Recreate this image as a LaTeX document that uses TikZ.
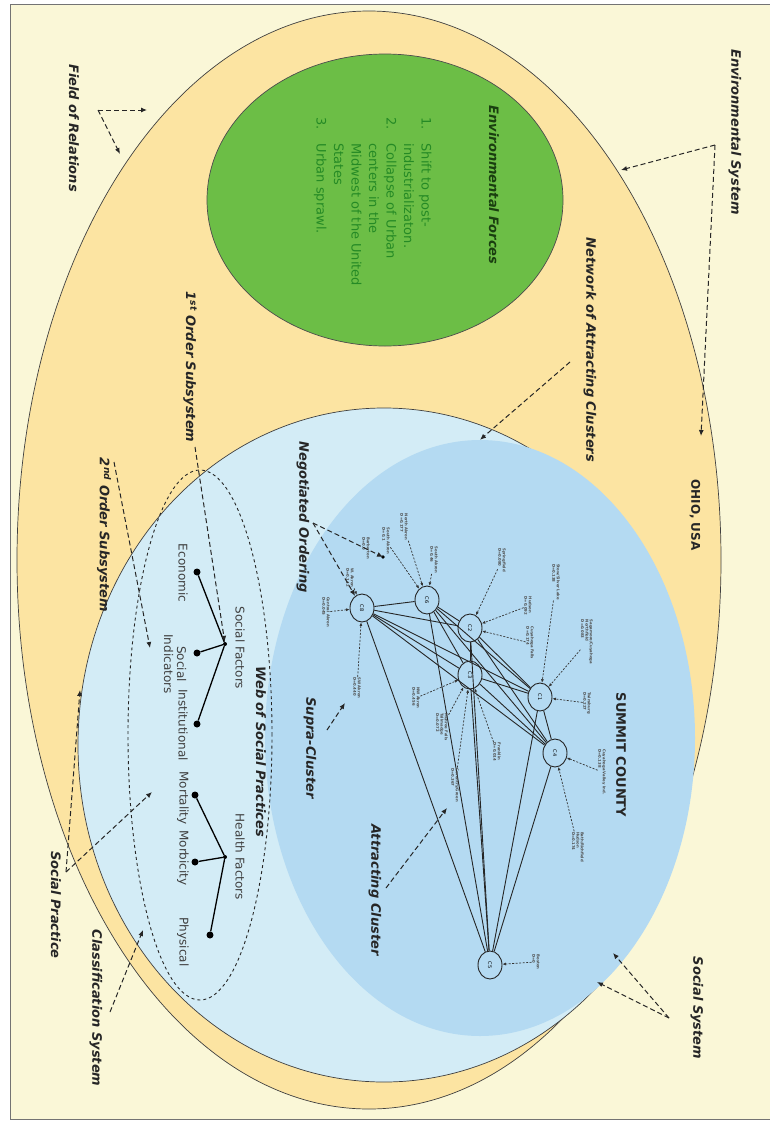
\documentclass[tikz,border=0pt]{standalone}
\usepackage{fontspec}
\setmainfont{DejaVu Sans}
\usetikzlibrary{arrows.meta,shapes.geometric}
\definecolor{cream}{HTML}{FAF7D7}
\definecolor{sand}{HTML}{FCE4A2}
\definecolor{envgreen}{HTML}{6CBE46}
\definecolor{listgreen}{HTML}{258A25}
\definecolor{titlegreen}{HTML}{1A3F10}
\definecolor{paleblue}{HTML}{D3ECF6}
\definecolor{midblue}{HTML}{B4DAF2}
\tikzset{
  lbl/.style={rotate=-90, font=\bfseries\itshape\fontsize{13}{15}\selectfont, text=black!85, inner sep=1pt},
  caps/.style={rotate=-90, font=\bfseries\fontsize{12}{14}\selectfont, text=black!85, inner sep=1pt},
  item/.style={rotate=-90, font=\fontsize{12}{14}\selectfont, text=black!75, inner sep=1pt},
  ptr/.style={dash pattern=on 5pt off 3pt, line width=1pt, black!85, -{Latex[length=6pt,width=5pt]}},
  dotptr/.style={dash pattern=on 2pt off 1.5pt, line width=0.7pt, black!80, -{Latex[length=3.5pt,width=3pt]}},
  clus/.style={ellipse, draw=black!85, line width=0.9pt, fill=midblue, rotate=-90, minimum width=28pt, minimum height=24pt, inner sep=0pt, font=\fontsize{5}{5}\selectfont},
  place/.style={rotate=-90, font=\bfseries\fontsize{3.8}{4.4}\selectfont, text=black!70, align=left, inner sep=0.5pt},
  dot/.style={circle, fill=black, inner sep=0pt, minimum size=7pt},
  hub/.style={circle, fill=black, inner sep=0pt, minimum size=4pt},
  link/.style={line width=0.9pt, black!85},
  branch/.style={line width=1.3pt, black}
}
\begin{document}
\begin{tikzpicture}[x=1pt,y=-1pt]
\useasboundingbox (0,0) rectangle (770,1122);
\fill[white] (0,0) rectangle (770,1122);
\filldraw[fill=cream, draw=black!55, line width=1pt] (10,4) rectangle (790,1119);

% outer (field of relations) ellipse
\node[ellipse, draw=black!75, line width=0.7pt, fill=sand, minimum width=704pt, minimum height=1098pt] (field) at (369,560) {};

% environmental forces
\node[ellipse, draw=black!70, line width=0.7pt, fill=envgreen, minimum width=356pt, minimum height=292pt] (envf) at (385,200) {};
\node[rotate=-90, font=\bfseries\itshape\fontsize{13}{15}\selectfont, text=titlegreen] (envt) at (494,185) {Environmental Forces};
\node[rotate=-90, anchor=north west, inner sep=0pt, text=listgreen, font=\fontsize{13}{17.5}\selectfont] (envl) at (434,117) {%
\begin{tabular}{@{}l@{\hspace{14pt}}l@{}}
1. & Shift to post-\\
   & industrializaton.\\
2. & Collapse of Urban\\
   & centers in the\\
   & Midwest of the United\\
   & States\\
3. & Urban sprawl.
\end{tabular}};

% social system ellipses
\node[ellipse, draw=black!75, line width=0.7pt, fill=paleblue, minimum width=612pt, minimum height=674pt] (socsys) at (384,745) {};
\node[ellipse, fill=midblue, minimum width=430pt, minimum height=596pt] (summit) at (480,738) {};

% web of social practices
\node[ellipse, draw=black!85, dash pattern=on 3pt off 3pt, line width=0.9pt, minimum width=144pt, minimum height=530pt] (web) at (200,735) {};
\node[lbl] (webt) at (261,752) {Web of Social Practices};

\node[hub] (sf) at (225,644) {};
\node[dot] (eco) at (197,572) {};
\node[dot] (soc) at (197,653) {};
\node[dot] (ins) at (197,724) {};
\draw[branch] (sf) -- (eco);
\draw[branch] (sf) -- (soc);
\draw[branch] (sf) -- (ins);
\node[item] (sft) at (240,648) {Social Factors};
\node[item] (ecot) at (183,573) {Economic};
\node[item, align=center] (soct) at (175,664) {Social\\[-1pt]Indicators};
\node[item] (inst) at (183,725) {Institutional};

\node[hub] (hf) at (225,857) {};
\node[dot] (mor) at (195,795) {};
\node[dot] (mob) at (195,862) {};
\node[dot] (phy) at (210,935) {};
\draw[branch] (hf) -- (mor);
\draw[branch] (hf) -- (mob);
\draw[branch] (hf) -- (phy);
\node[item] (hft) at (240,857) {Health Factors};
\node[item] (mort) at (183,798) {Mortality};
\node[item] (mobt) at (183,858) {Morbicity};
\node[item] (phyt) at (183,942) {Physical};

% clusters
\node[clus] (c8) at (362,608) {C8};
\node[clus] (c6) at (427,600) {C6};
\node[clus] (c2) at (470,628) {C2};
\node[clus] (c3) at (470,675) {C3};
\node[clus] (c1) at (540,697) {C1};
\node[clus] (c4) at (555,753) {C4};
\node[clus] (c5) at (490,965) {C5};
\foreach \a/\b in {c8/c6,c8/c2,c8/c3,c8/c1,c8/c4,c8/c5,c6/c2,c6/c3,c6/c1,c6/c4,c6/c5,c2/c3,c2/c1,c2/c4,c2/c5,c3/c1,c3/c4,c3/c5,c1/c4,c1/c5,c4/c5}
  \draw[link] (\a) -- (\b);

% place labels
\node[place] (p1) at (326,612) {Central Akron\\D=0.045};
\node[place] (p2) at (350,578) {W. Akron\\D=0.142};
\node[place] (p3) at (366,548) {Barberton\\D=0.0};
\node[place] (p4) at (386,541) {South Akron\\D=0.1};
\node[place] (p5) at (404,527) {North Akron\\D=0.177};
\node[place] (p6) at (434,560) {South Akron\\D=0.46};
\node[place] (p7) at (502,560) {Springfield\\D=0.080};
\node[place] (p8) at (556,582) {Stow/Silver Lake\\D=0.138};
\node[place] (p9) at (528,606) {Hudson\\D=0.092};
\node[place] (p10) at (530,643) {Cuyahoga Falls\\D=0.174};
\node[place] (p11) at (587,642) {Sagamore/Cuyahoga\\Northfield\\D=0.083};
\node[place] (p12) at (587,703) {Twinsburg\\D=0.227};
\node[place] (p13) at (602,772) {Cuyahoga Valley Ind.\\D=0.138};
\node[place] (p14) at (578,847) {Bath/Richfield\\Hudson\\D=0.174};
\node[place] (p15) at (416,698) {NW Akron\\D=0.456};
\node[place] (p16) at (442,727) {Munroe Falls\\Tallmadge\\D=0.072};
\node[place] (p17) at (497,752) {Franklin\\D=0.014};
\node[place] (p18) at (455,785) {Coventry/Green\\D=0.367};
\node[place] (p19) at (357,688) {SW Akron\\D=0.440};
\node[place] (p20) at (536,962) {Boston\\D=0};
\coordinate (p3d) at (383,557);
\fill[black] (p3d) circle (1.8pt);

\draw[dotptr] (p1) -- (c8);
\draw[dotptr] (p2) -- (c8);
\draw[dotptr] (p19) -- (c8);
\draw[dotptr] (p4) -- (c6);
\draw[dotptr] (p5) -- (c6);
\draw[dotptr] (p6) -- (c6);
\draw[dotptr] (p7) -- (c2);
\draw[dotptr] (p9) -- (c2);
\draw[dotptr] (p10) -- (c2);
\draw[dotptr] (p8) -- (c1);
\draw[dotptr] (p11) -- (c1);
\draw[dotptr] (p12) -- (c1);
\draw[dotptr] (p13) -- (c4);
\draw[dotptr] (p14) -- (c4);
\draw[dotptr] (p15) -- (c3);
\draw[dotptr] (p16) -- (c3);
\draw[dotptr] (p17) -- (c3);
\draw[dotptr] (p18) -- (c3);
\draw[dotptr] (p20) -- (c5);

% outer labels and pointers
\node[lbl] (fr) at (74,128) {Field of Relations};
\coordinate (frA) at (98,110);
\coordinate (frT1) at (147,110);
\coordinate (frT2) at (120,154);
\draw[ptr] (frA) -- (frT1);
\draw[ptr] (frA) -- (frT2);

\node[lbl] (es) at (735,132) {Environmental System};
\coordinate (esA) at (715,145);
\coordinate (esT1) at (621,170);
\coordinate (esT2) at (701,436);
\node[caps] (ohio) at (695,515) {OHIO, USA};
\draw[ptr] (esA) -- (esT1);
\draw[ptr] (esA) -- (esT2);

\node[lbl] (net) at (590,350) {Network of Attracting Clusters};
\coordinate (netA) at (570,362);
\draw[ptr] (netA) -- (summit.north);

\node[lbl] (neg) at (303,517) {Negotiated Ordering};
\coordinate (negA) at (313,523);
\draw[ptr] (negA) -- (p3d);
\draw[ptr] (negA) -- (c8);

\node[lbl] (sup) at (310,748) {Supra-Cluster};
\coordinate (supA) at (327,730);
\coordinate (supT) at (345,703);
\draw[ptr] (supA) -- (supT);

\node[lbl] (att) at (375,890) {Attracting Cluster};
\coordinate (attA) at (386,888);
\coordinate (attT) at (447,808);
\draw[ptr] (attA) -- (attT);

\node[caps, font=\bfseries\fontsize{13}{15}\selectfont] (sum) at (621,755) {SUMMIT COUNTY};

\node[lbl] (ss) at (697,1008) {Social System};
\coordinate (ssA) at (669,1018);
\coordinate (ssT1) at (613,953);
\coordinate (ssT2) at (597,982);
\draw[ptr] (ssA) -- (ssT1);
\draw[ptr] (ssA) -- (ssT2);

\node[lbl] (cls) at (96,1008) {Classification System};
\coordinate (clsA) at (110,1012);
\coordinate (clsT) at (143,930);
\draw[ptr] (clsA) -- (clsT);

\node[lbl] (sp) at (56,905) {Social Practice};
\coordinate (spA) at (66,872);
\coordinate (spT1) at (80,690);
\coordinate (spT2) at (152,792);
\draw[ptr] (spA) -- (spT1);
\draw[ptr] (spA) -- (spT2);

\node[lbl] (o2) at (104,535) {2\textsuperscript{nd} Order Subsystem};
\coordinate (o2A) at (114,462);
\coordinate (o2T) at (150,648);
\draw[ptr] (o2A) -- (o2T);

\node[lbl] (o1) at (190,367) {1\textsuperscript{st} Order Subsystem};
\coordinate (o1A) at (195,447);
\draw[ptr] (o1A) -- (sf);
\end{tikzpicture}
\end{document}
